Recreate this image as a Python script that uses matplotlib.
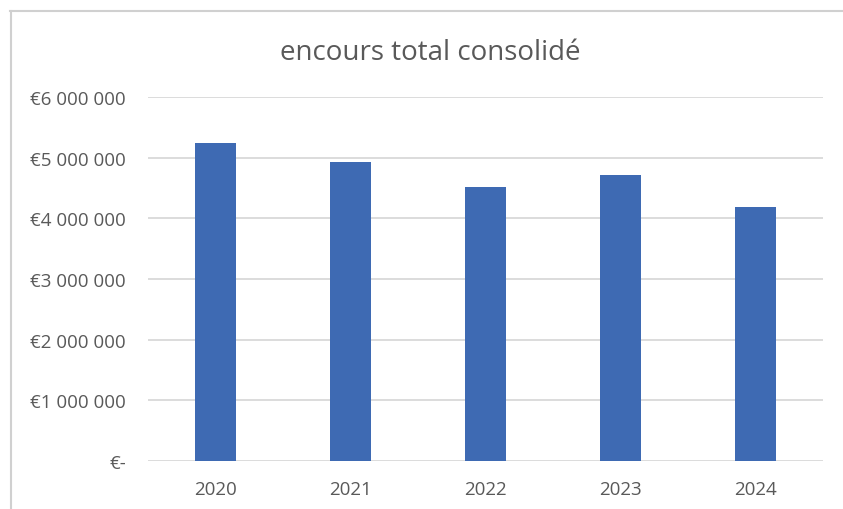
import matplotlib.pyplot as plt
from matplotlib.lines import Line2D
from matplotlib.ticker import FuncFormatter

# Data
years = ['2020', '2021', '2022', '2023', '2024']
encours = [5240000, 4930000, 4510000, 4710000, 4180000]

y_ticks = [0, 1000000, 2000000, 3000000, 4000000, 5000000, 6000000]

plt.rcParams['font.family'] = ['Open Sans', 'DejaVu Sans']

W, H = 843, 510
fig = plt.figure(figsize=(W / 100, H / 100), dpi=100)
ax = fig.add_axes([148 / W, 1 - 462 / H, 675 / W, 364 / H])

x = range(len(years))
ax.bar(x, encours, width=0.31, color='#3E6AB3', zorder=3)

ax.set_xlim(-0.5, len(years) - 0.5)
ax.set_ylim(0, 6000000)
ax.set_yticks(y_ticks)


def euro_fmt(v, pos):
    if v == 0:
        return '€-'
    return '€' + f'{int(v):,}'.replace(',', ' ')


ax.yaxis.set_major_formatter(FuncFormatter(euro_fmt))
ax.set_xticks(list(x))
ax.set_xticklabels(years)

ax.grid(axis='y', color='#D9D9D9', linewidth=1.3, zorder=0)
for s in ax.spines.values():
    s.set_visible(False)
ax.tick_params(axis='both', length=0, labelsize=13.5, colors='#595959')
ax.tick_params(axis='y', pad=16)
ax.tick_params(axis='x', pad=14)

fig.text(430 / W, 1 - 53 / H, 'encours total consolidé', ha='center', va='center',
         fontsize=20, color='#595959')

# chart frame (top and left edges visible)
fig.add_artist(Line2D([10 / W, 1], [1 - 11.5 / H, 1 - 11.5 / H], color='#D0D0D0', linewidth=1.5))
fig.add_artist(Line2D([10.5 / W, 10.5 / W], [0, 1 - 11.5 / H], color='#D0D0D0', linewidth=1.5))

fig.savefig('out.png', dpi=100)
